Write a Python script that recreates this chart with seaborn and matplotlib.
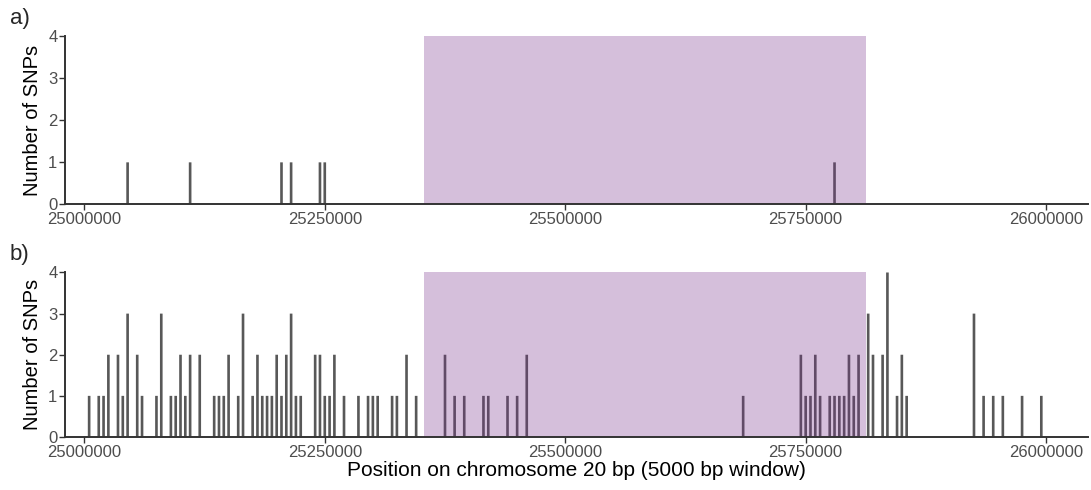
import numpy as np
import pandas as pd
import matplotlib
matplotlib.use("Agg")
import matplotlib.pyplot as plt
import seaborn as sns

# ---- data ----
pos_a = [25045000, 25110000, 25205000, 25215000, 25245000, 25250000, 25780000]
cnt_a = [1, 1, 1, 1, 1, 1, 1]

pos_b = [25005000, 25015000, 25020000, 25025000, 25035000, 25040000, 25045000,
         25055000, 25060000, 25075000, 25080000, 25090000, 25095000, 25100000,
         25105000, 25110000, 25120000, 25135000, 25140000, 25145000, 25150000,
         25160000, 25165000, 25175000, 25180000, 25185000, 25190000, 25195000,
         25200000, 25205000, 25210000, 25215000, 25220000, 25225000, 25240000,
         25245000, 25250000, 25255000, 25260000, 25270000, 25285000, 25295000,
         25300000, 25305000, 25320000, 25325000, 25335000, 25345000, 25375000,
         25385000, 25395000, 25415000, 25420000, 25440000, 25450000, 25460000,
         25685000, 25745000, 25750000, 25755000, 25760000, 25765000, 25775000,
         25780000, 25785000, 25790000, 25795000, 25800000, 25805000, 25815000,
         25820000, 25830000, 25835000, 25845000, 25850000, 25855000, 25925000,
         25935000, 25945000, 25955000, 25975000, 25995000]
cnt_b = [1, 1, 1, 2, 2, 1, 3,
         2, 1, 1, 3, 1, 1, 2,
         1, 2, 2, 1, 1, 1, 2,
         1, 3, 1, 2, 1, 1, 1,
         2, 1, 2, 3, 1, 1, 2,
         2, 1, 1, 2, 1, 1, 1,
         1, 1, 1, 1, 2, 1, 2,
         1, 1, 1, 1, 1, 1, 2,
         1, 2, 1, 1, 2, 1, 1,
         1, 1, 1, 2, 1, 2, 3,
         2, 2, 4, 1, 2, 1, 3,
         1, 1, 1, 1, 1]

region_start = 25353000
region_end = 25813000

xticks = [25000000, 25250000, 25500000, 25750000, 26000000]
xtick_labels = ["25000000", "25250000", "25500000", "25750000", "26000000"]
yticks = [0, 1, 2, 3, 4]
panel_labels = ["a)", "b)"]
ylabel = "Number of SNPs"
xlabel = "Position on chromosome 20 bp (5000 bp window)"

# ---- style ----
sns.set_theme(style="white")
plt.rcParams['font.family'] = ['Liberation Sans', 'DejaVu Sans']

bar_color = "#585858"
region_color = "#762D8A"
axis_color = "#333333"
tick_text = "#4d4d4d"

fig = plt.figure(figsize=(10.91, 4.90), dpi=100)
ax_a = fig.add_axes([0.0596, 0.5827, 0.9377, 0.3439])
ax_b = fig.add_axes([0.0596, 0.1082, 0.9377, 0.3357])

xlim = (24979930, 26043600)

for ax, pos, cnt, lab in [(ax_a, pos_a, cnt_a, panel_labels[0]),
                          (ax_b, pos_b, cnt_b, panel_labels[1])]:
    df = pd.DataFrame({"pos": pos, "cnt": cnt})
    sns.barplot(data=df, x="pos", y="cnt", native_scale=True, width=0.55,
                color=bar_color, saturation=1, errorbar=None, linewidth=0,
                ax=ax)
    for p in ax.patches:
        p.set_snap(False)
        p.set_antialiased(True)
    ax.axvspan(region_start, region_end, ymin=0, ymax=1, color=region_color,
               alpha=0.3, linewidth=0, zorder=3)
    ax.set_xlim(*xlim)
    ax.set_ylim(0, 4)
    ax.set_xticks(xticks)
    ax.set_xticklabels(xtick_labels)
    ax.set_yticks(yticks)
    ax.set_yticklabels([str(v) for v in yticks])
    ax.tick_params(axis="both", labelsize=12, labelcolor=tick_text,
                   color=axis_color, length=4, width=1.0, pad=1.5,
                   bottom=True, left=True)
    for s in ["top", "right"]:
        ax.spines[s].set_visible(False)
    for s in ["left", "bottom"]:
        ax.spines[s].set_color(axis_color)
        ax.spines[s].set_linewidth(1.4)
        ax.spines[s].set_zorder(5)
    ax.set_ylabel(ylabel, fontsize=14.5, color="black", labelpad=4)
    ax.set_xlabel("")
    ax.grid(False)

ax_b.set_xlabel(xlabel, fontsize=15, color="black", labelpad=1)

fig.text(0.009, 0.963, panel_labels[0], fontsize=16, ha="left", va="center")
fig.text(0.009, 0.48, panel_labels[1], fontsize=16, ha="left", va="center")

fig.savefig("out.png", dpi=100, facecolor="white")
